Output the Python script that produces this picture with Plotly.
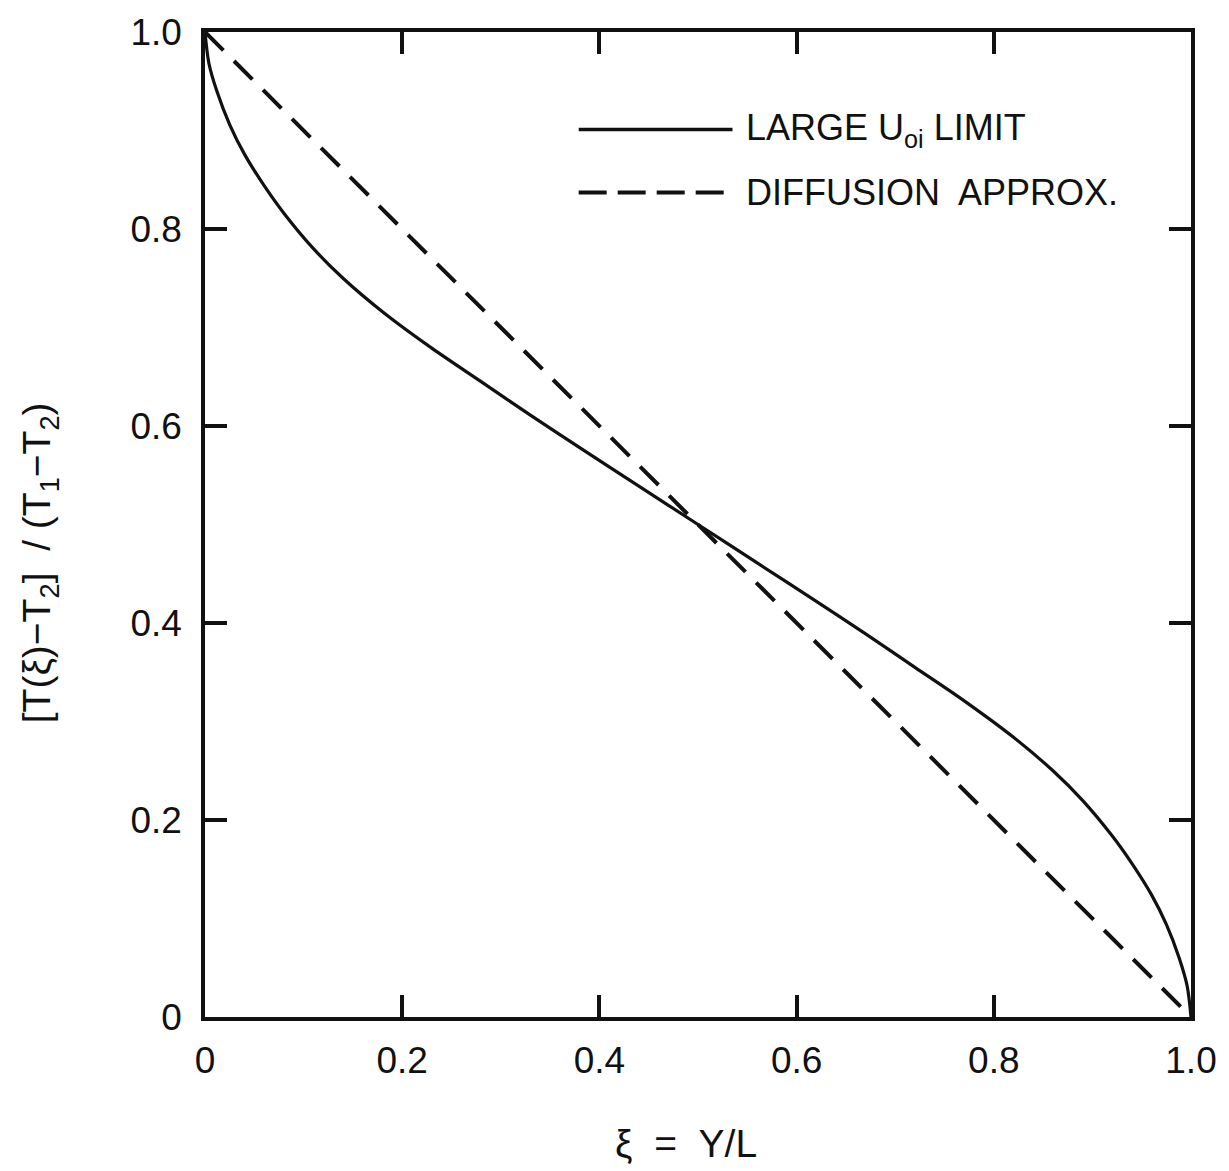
import plotly.graph_objects as go

# Data
xi_solid = [0.0, 0.004, 0.012, 0.025, 0.04, 0.06, 0.08, 0.11, 0.14, 0.18, 0.23, 0.28, 0.33,
            0.38, 0.44, 0.5, 0.56, 0.62, 0.67, 0.72, 0.77, 0.82, 0.86, 0.89, 0.92, 0.94,
            0.96, 0.975, 0.988, 0.996, 1.0]
t_solid = [1.0, 0.968, 0.940, 0.906, 0.876, 0.844, 0.816, 0.780, 0.750, 0.716, 0.679, 0.645, 0.611,
           0.578, 0.539, 0.5, 0.461, 0.422, 0.389, 0.355, 0.321, 0.284, 0.250, 0.220, 0.184, 0.156,
           0.124, 0.094, 0.060, 0.032, 0.0]
xi_dash = [0.0, 1.0]
t_dash = [1.0, 0.0]

tick_vals = [0, 0.2, 0.4, 0.6, 0.8, 1.0]
tick_text = ["0", "0.2", "0.4", "0.6", "0.8", "1.0"]

legend_labels = ["LARGE U<sub>oi</sub>&nbsp;LIMIT", "DIFFUSION&nbsp; APPROX."]
x_title = "ξ&nbsp; = &nbsp;Y/L"
y_title = "[T(ξ)−T<sub>2</sub>]&nbsp; / (T<sub>1</sub>−T<sub>2</sub>)"

FONT = "Liberation Sans"
INK = "#111111"

fig = go.Figure()
fig.add_trace(go.Scatter(x=xi_solid, y=t_solid, mode="lines",
                         line=dict(color=INK, width=3.2, shape="spline", smoothing=0.9),
                         showlegend=False, hoverinfo="skip"))
fig.add_trace(go.Scatter(x=xi_dash, y=t_dash, mode="lines",
                         line=dict(color=INK, width=4, dash="26px,15px"),
                         showlegend=False, hoverinfo="skip"))

# legend drawn manually
leg_x0, leg_x1 = 0.379, 0.535
leg_y = [0.901, 0.837]
fig.add_shape(type="line", x0=leg_x0, x1=leg_x1, y0=leg_y[0], y1=leg_y[0], xref="x", yref="y",
              line=dict(color=INK, width=3.5))
fig.add_shape(type="line", x0=leg_x0, x1=leg_x1, y0=leg_y[1], y1=leg_y[1], xref="x", yref="y",
              line=dict(color=INK, width=4, dash="28px,11px"))
for lab, yy in zip(legend_labels, leg_y):
    fig.add_annotation(x=leg_x1 + 0.012, y=yy, xref="x", yref="y", text=lab, showarrow=False,
                       xanchor="left", yanchor="middle", font=dict(family=FONT, size=36, color=INK))

# axis titles
fig.add_annotation(x=0.488, y=-0.128, xref="paper", yref="paper", text=x_title, showarrow=False,
                   xanchor="center", yanchor="middle", font=dict(family=FONT, size=39, color=INK))
fig.add_annotation(x=-0.167, y=0.461, xref="paper", yref="paper", text=y_title, showarrow=False,
                   textangle=-90, xanchor="center", yanchor="middle",
                   font=dict(family=FONT, size=39, color=INK))

axis_common = dict(showline=True, linecolor=INK, linewidth=3.5, mirror="ticks", ticks="inside",
                   ticklen=22, tickwidth=3.5, tickcolor=INK, showgrid=False, zeroline=False,
                   tickvals=tick_vals, ticktext=tick_text,
                   tickfont=dict(family=FONT, size=37, color=INK))

fig.update_xaxes(range=[0, 1], **axis_common, ticklabelstandoff=8)
fig.update_yaxes(range=[0, 1], **axis_common, ticklabelstandoff=12)

fig.update_layout(width=1229, height=1171, margin=dict(l=205, r=34, t=25, b=154),
                  plot_bgcolor="white", paper_bgcolor="white", showlegend=False)

fig.write_html("out.html")
